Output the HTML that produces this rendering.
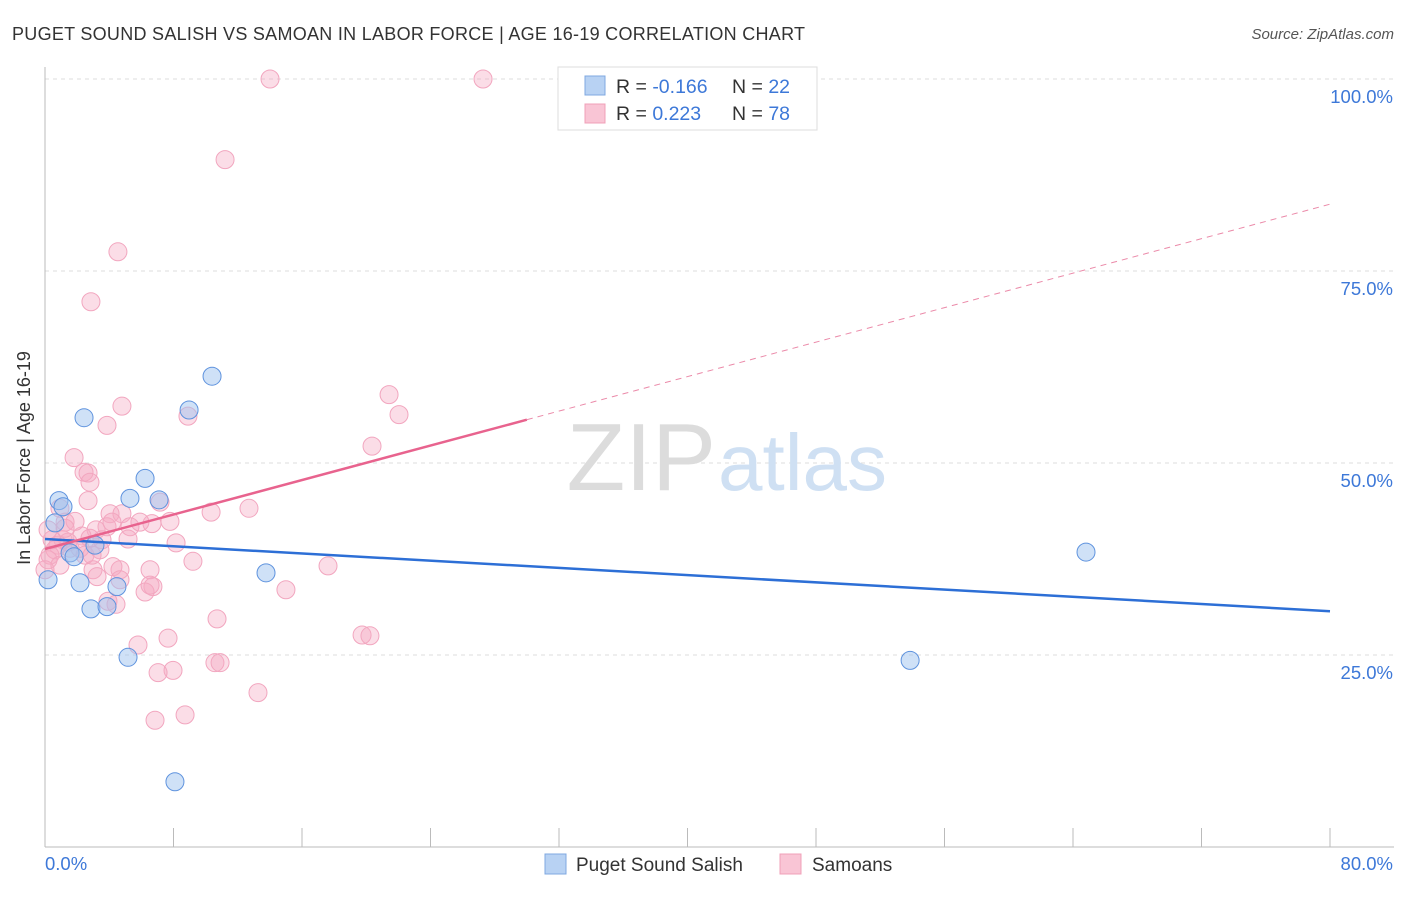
<!DOCTYPE html>
<html><head><meta charset="utf-8"><style>
body{margin:0;background:#fff;font-family:"Liberation Sans",sans-serif}
svg text{font-family:"Liberation Sans",sans-serif}
</style></head><body>
<svg id="chart" width="1406" height="892" viewBox="0 0 1406 892" xmlns="http://www.w3.org/2000/svg">
<text x="12" y="40" font-size="18" letter-spacing="0.28" fill="#333">PUGET SOUND SALISH VS SAMOAN IN LABOR FORCE | AGE 16-19 CORRELATION CHART</text>
<text x="1394" y="39" font-size="15" fill="#555" text-anchor="end" font-style="italic">Source: ZipAtlas.com</text>
<g id="grid"></g>
<text x="716" y="490" font-size="96" fill="#dcdcdc" text-anchor="end" font-family="Liberation Serif">ZIP</text>
<text x="718" y="490" font-size="80" fill="#cfe0f3">atlas</text>
<g id="axes"></g>
<g id="marks"></g>
<text x="30" y="458" font-size="18" fill="#333" text-anchor="middle" transform="rotate(-90 30 458)">In Labor Force | Age 16-19</text>
<g>
<rect x="558" y="67" width="259" height="63" fill="#fff" stroke="#ddd"/>
<rect x="585" y="76" width="20" height="19" fill="#b8d2f3" stroke="#7fa8e0"/>
<rect x="585" y="104" width="20" height="19" fill="#f9c5d5" stroke="#f0a0b8"/>
<text x="616" y="93" font-size="19.5" fill="#333">R = <tspan fill="#3d78d8">-0.166</tspan></text>
<text x="732" y="93" font-size="19.5" fill="#333">N = <tspan fill="#3d78d8">22</tspan></text>
<text x="616" y="120" font-size="19.5" fill="#333">R = <tspan fill="#3d78d8"> 0.223</tspan></text>
<text x="732" y="120" font-size="19.5" fill="#333">N = <tspan fill="#3d78d8">78</tspan></text>
</g>
<g>
<rect x="545" y="854" width="21" height="20" fill="#b8d2f3" stroke="#7fa8e0"/>
<text x="576" y="871" font-size="19" fill="#333">Puget Sound Salish</text>
<rect x="780" y="854" width="21" height="20" fill="#f9c5d5" stroke="#f0a0b8"/>
<text x="812" y="871" font-size="19" fill="#333">Samoans</text>
</g>
</svg>
<script>
const yTicks=[25,50,75,100];
const yTickLabels=["25.0%","50.0%","75.0%","100.0%"];
const xEndLabels=["0.0%","80.0%"];
const blueX=[0.19,0.62,0.87,1.12,2.43,2.18,1.56,1.81,2.86,3.86,3.11,4.48,5.17,5.29,6.23,7.10,8.97,10.40,13.76,8.09,53.86,64.81];
const blueY=[34.8,42.2,45.1,44.3,55.9,34.4,38.3,37.8,31.0,31.3,39.3,33.9,24.7,45.4,48.0,45.2,56.9,61.3,35.7,8.5,24.3,38.4];
const pinkX=[14.01,27.27,11.21,4.54,2.86,21.42,22.04,4.79,3.86,8.90,20.36,1.81,2.43,2.68,2.80,2.68,7.16,12.70,10.34,0.93,1.25,1.87,4.05,4.79,3.86,5.29,7.78,6.66,3.18,2.30,1.12,0.81,1.43,0.62,0.31,0.19,0.44,1.56,2.18,3.42,5.17,8.16,9.21,6.54,4.67,2.99,3.24,4.23,6.72,6.23,17.62,15.00,3.92,4.42,10.71,7.66,5.79,19.74,20.23,7.97,7.04,10.58,10.90,13.26,6.85,8.72,0.0,0.19,0.93,2.49,2.80,1.25,4.17,5.91,3.55,2.93,4.67,6.54];
const pinkY=[100,100,89.5,77.5,71.0,58.9,56.3,57.4,54.9,56.1,52.2,50.7,48.8,48.7,47.5,45.1,44.9,44.1,43.6,44.1,42.3,42.4,43.4,43.4,41.7,41.7,42.4,42.1,41.3,40.5,40.0,39.3,39.7,38.7,38.0,37.4,40.0,38.9,38.9,38.7,40.1,39.6,37.2,36.1,36.1,36.1,35.2,36.5,33.9,33.2,36.6,33.5,32.0,31.6,29.7,27.2,26.3,27.6,27.5,23.0,22.7,24.0,24.0,20.1,16.5,17.2,36.1,41.3,36.7,38.0,40.2,41.5,42.3,42.3,40.0,38.0,34.8,34.1];
const blueTrend=[40.1,30.7];
const pinkTrend=[38.8,83.7];
const pinkSolidEnd=30;

const NS="http://www.w3.org/2000/svg";
const X0=45,X1=1330,Y0=847,YPX=7.68;
function sx(v){return X0+(v/80)*(X1-X0);}
function sy(v){return Y0-v*YPX;}
function mk(tag,attrs,parent){const e=document.createElementNS(NS,tag);for(const k in attrs)e.setAttribute(k,attrs[k]);parent.appendChild(e);return e;}
const grid=document.getElementById('grid'),axes=document.getElementById('axes'),marks=document.getElementById('marks');
yTicks.forEach((t,i)=>{
  const l=mk('line',{x1:X0,x2:1394,y1:sy(t),y2:sy(t),stroke:'#ddd','stroke-dasharray':'4 4'},grid);
  
  
  const tx=mk('text',{x:1393,y:sy(t)+24,'font-size':18.5,fill:'#3d78d8','text-anchor':'end','font-family':'DejaVu Sans','font-weight':300},axes);
  tx.textContent=yTickLabels[i];
  
  
});
const ya=mk('line',{x1:X0,x2:X0,y1:67,y2:Y0,stroke:'#bbb'},axes);


const xa=mk('line',{x1:X0,x2:1394,y1:Y0,y2:Y0,stroke:'#bbb'},axes);


for(let i=0;i<=10;i++){
  const v=i*8;
  const tk=mk('line',{x1:sx(v),x2:sx(v),y1:828,y2:Y0,stroke:'#bbb'},axes);
  
  
}
const xl0=mk('text',{x:45,y:870,'font-size':18.5,fill:'#3d78d8'},axes);xl0.textContent=xEndLabels[0];


const xl1=mk('text',{x:1393,y:870,'font-size':18.5,fill:'#3d78d8','text-anchor':'end'},axes);xl1.textContent=xEndLabels[1];


pinkX.forEach((x,i)=>{
  const c=mk('circle',{cx:sx(x),cy:sy(pinkY[i]),r:9,fill:'rgba(246,170,196,0.4)',stroke:'#f2a6bf','stroke-width':1},marks);
  
  
});
blueX.forEach((x,i)=>{
  const c=mk('circle',{cx:sx(x),cy:sy(blueY[i]),r:9,fill:'rgba(160,196,240,0.5)',stroke:'#5f93de','stroke-width':1},marks);
  
  
});
function py(v){return pinkTrend[0]+(pinkTrend[1]-pinkTrend[0])*v/80;}
const bt=mk('line',{x1:sx(0),y1:sy(blueTrend[0]),x2:sx(80),y2:sy(blueTrend[1]),stroke:'#2d6fd6','stroke-width':2.5},marks);


const ps=mk('line',{x1:sx(0),y1:sy(py(0)),x2:sx(pinkSolidEnd),y2:sy(py(pinkSolidEnd)),stroke:'#e8638e','stroke-width':2.5},marks);


const pd=mk('line',{x1:sx(pinkSolidEnd),y1:sy(py(pinkSolidEnd)),x2:sx(80),y2:sy(py(80)),stroke:'#eb8aa9','stroke-width':1,'stroke-dasharray':'6 5'},marks);


</script>
</body></html>
